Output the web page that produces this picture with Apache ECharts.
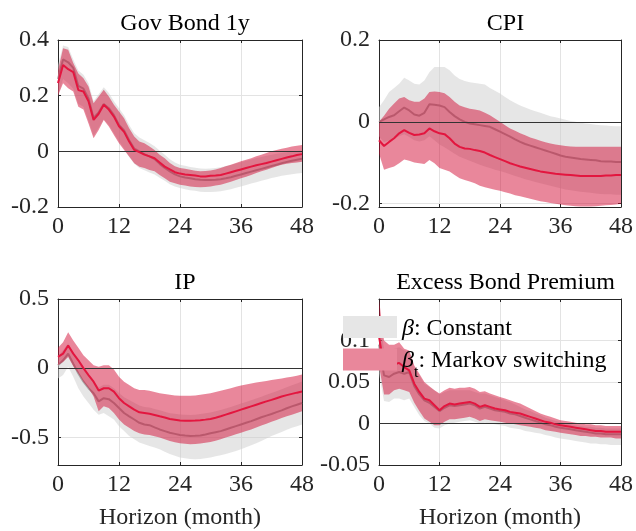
<!DOCTYPE html>
<html>
<head>
<meta charset="utf-8">
<script src="https://cdn.jsdelivr.net/npm/echarts@6/dist/echarts.min.js"></script>
<style>html,body{margin:0;padding:0;background:#fff;}#c{width:636px;height:531px;}</style>
</head>
<body>
<div id="c"></div>
<script>
// ---------- DATA ----------
const horizons = [0,1,2,3,4,5,6,7,8,9,10,11,12,13,14,15,16,17,18,19,20,21,22,23,24,25,26,27,28,29,30,31,32,33,34,35,36,37,38,39,40,41,42,43,44,45,46,47,48];
const panelTitles = ['Gov Bond 1y', 'CPI', 'IP', 'Excess Bond Premium'];
const xTicks = [0, 12, 24, 36, 48];
const yTicksBond = [-0.2, 0, 0.2, 0.4];
const yTicksCpi = [-0.2, 0, 0.2];
const yTicksIp = [-0.5, 0, 0.5];
const yTicksEbp = [-0.05, 0, 0.05, 0.1];
const legendNames = ['Constant', 'Markov switching'];
const xAxisName = 'Horizon (month)';

// Gov Bond 1y
const bondConstMed = [0.26,0.33,0.32,0.3,0.235,0.225,0.19,0.12,0.14,0.17,0.155,0.13,0.095,0.075,0.04,0.01,0.0,-0.01,-0.018,-0.028,-0.045,-0.06,-0.072,-0.083,-0.09,-0.094,-0.097,-0.1,-0.102,-0.103,-0.103,-0.102,-0.1,-0.097,-0.093,-0.088,-0.083,-0.078,-0.073,-0.068,-0.063,-0.058,-0.053,-0.048,-0.043,-0.038,-0.034,-0.03,-0.027];
const bondConstLo = [0.2,0.26,0.245,0.225,0.17,0.16,0.11,0.055,0.085,0.115,0.095,0.065,0.035,0.01,-0.02,-0.045,-0.06,-0.068,-0.076,-0.083,-0.095,-0.106,-0.118,-0.126,-0.132,-0.136,-0.14,-0.142,-0.145,-0.146,-0.146,-0.145,-0.143,-0.14,-0.136,-0.131,-0.126,-0.121,-0.116,-0.111,-0.106,-0.101,-0.096,-0.092,-0.088,-0.085,-0.082,-0.08,-0.078];
const bondConstHi = [0.31,0.38,0.375,0.33,0.29,0.275,0.245,0.18,0.205,0.23,0.21,0.18,0.155,0.13,0.095,0.065,0.05,0.04,0.03,0.018,0.002,-0.012,-0.028,-0.04,-0.048,-0.052,-0.056,-0.059,-0.062,-0.063,-0.062,-0.06,-0.057,-0.053,-0.049,-0.044,-0.039,-0.034,-0.029,-0.024,-0.02,-0.016,-0.012,-0.009,-0.006,-0.003,-0.001,0.001,0.003];
const bondMsMed = [0.245,0.31,0.295,0.285,0.22,0.215,0.18,0.113,0.135,0.167,0.15,0.125,0.09,0.07,0.035,0.005,-0.003,-0.012,-0.018,-0.025,-0.04,-0.055,-0.065,-0.075,-0.08,-0.083,-0.085,-0.087,-0.09,-0.09,-0.088,-0.087,-0.085,-0.08,-0.075,-0.07,-0.065,-0.06,-0.055,-0.05,-0.046,-0.042,-0.037,-0.032,-0.027,-0.022,-0.018,-0.013,-0.01];
const bondMsLo = [0.2,0.245,0.227,0.215,0.16,0.15,0.1,0.047,0.077,0.113,0.089,0.059,0.029,0.005,-0.019,-0.043,-0.055,-0.06,-0.067,-0.072,-0.085,-0.097,-0.109,-0.115,-0.12,-0.123,-0.126,-0.128,-0.129,-0.128,-0.126,-0.123,-0.12,-0.115,-0.109,-0.103,-0.097,-0.091,-0.085,-0.078,-0.072,-0.066,-0.06,-0.054,-0.048,-0.045,-0.042,-0.04,-0.037];
const bondMsHi = [0.29,0.37,0.365,0.317,0.28,0.263,0.233,0.173,0.197,0.221,0.197,0.167,0.143,0.119,0.083,0.053,0.035,0.029,0.017,0.005,-0.012,-0.025,-0.042,-0.054,-0.06,-0.063,-0.066,-0.07,-0.072,-0.071,-0.069,-0.065,-0.06,-0.054,-0.048,-0.042,-0.036,-0.03,-0.025,-0.018,-0.012,-0.006,0.0,0.005,0.009,0.013,0.017,0.02,0.023];

// CPI
const cpiConstMed = [0,0.006,0.012,0.016,0.026,0.035,0.028,0.018,0.015,0.022,0.043,0.042,0.04,0.036,0.024,0.014,0.006,0,-0.004,-0.006,-0.008,-0.01,-0.012,-0.018,-0.024,-0.03,-0.036,-0.043,-0.049,-0.054,-0.058,-0.062,-0.066,-0.07,-0.074,-0.078,-0.082,-0.085,-0.087,-0.089,-0.091,-0.092,-0.093,-0.094,-0.096,-0.097,-0.097,-0.098,-0.098];
const cpiConstLo = [-0.035,-0.05,-0.045,-0.04,-0.035,-0.03,-0.037,-0.045,-0.048,-0.045,-0.035,-0.045,-0.055,-0.062,-0.07,-0.078,-0.085,-0.09,-0.095,-0.1,-0.105,-0.109,-0.113,-0.117,-0.12,-0.124,-0.128,-0.132,-0.136,-0.14,-0.143,-0.147,-0.15,-0.153,-0.156,-0.159,-0.162,-0.165,-0.167,-0.169,-0.171,-0.172,-0.173,-0.175,-0.176,-0.177,-0.177,-0.178,-0.178];
const cpiConstHi = [0.036,0.053,0.073,0.083,0.093,0.108,0.101,0.093,0.091,0.101,0.121,0.134,0.134,0.134,0.126,0.113,0.105,0.1,0.097,0.095,0.093,0.091,0.083,0.076,0.069,0.061,0.053,0.046,0.04,0.035,0.03,0.026,0.022,0.018,0.014,0.011,0.008,0.005,0.002,0.0,-0.002,-0.004,-0.005,-0.007,-0.008,-0.009,-0.01,-0.011,-0.011];
const cpiMsMed = [-0.045,-0.059,-0.049,-0.04,-0.028,-0.02,-0.027,-0.032,-0.031,-0.028,-0.016,-0.023,-0.028,-0.03,-0.04,-0.053,-0.061,-0.065,-0.066,-0.069,-0.071,-0.075,-0.081,-0.086,-0.091,-0.096,-0.101,-0.105,-0.109,-0.112,-0.115,-0.118,-0.121,-0.123,-0.125,-0.127,-0.128,-0.129,-0.13,-0.131,-0.132,-0.132,-0.132,-0.132,-0.132,-0.131,-0.131,-0.13,-0.13];
const cpiMsLo = [-0.077,-0.117,-0.113,-0.109,-0.101,-0.092,-0.095,-0.099,-0.101,-0.103,-0.093,-0.101,-0.113,-0.117,-0.121,-0.13,-0.138,-0.142,-0.146,-0.15,-0.156,-0.16,-0.163,-0.166,-0.168,-0.172,-0.175,-0.179,-0.182,-0.185,-0.188,-0.191,-0.194,-0.196,-0.198,-0.2,-0.202,-0.204,-0.205,-0.206,-0.207,-0.207,-0.207,-0.206,-0.205,-0.204,-0.203,-0.202,-0.2];
const cpiMsHi = [0,0.015,0.032,0.045,0.057,0.061,0.053,0.049,0.049,0.057,0.073,0.074,0.073,0.07,0.061,0.049,0.04,0.036,0.032,0.03,0.028,0.022,0.016,0.008,0.0,-0.008,-0.016,-0.022,-0.028,-0.033,-0.038,-0.042,-0.046,-0.05,-0.053,-0.055,-0.057,-0.059,-0.06,-0.061,-0.061,-0.061,-0.061,-0.061,-0.061,-0.061,-0.061,-0.061,-0.061];

// IP
const ipConstMed = [0.02,0.057,0.105,0.033,-0.038,-0.098,-0.145,-0.181,-0.24,-0.217,-0.224,-0.252,-0.288,-0.324,-0.348,-0.371,-0.395,-0.407,-0.412,-0.428,-0.443,-0.455,-0.467,-0.475,-0.483,-0.487,-0.49,-0.489,-0.486,-0.479,-0.471,-0.463,-0.455,-0.443,-0.431,-0.419,-0.407,-0.395,-0.383,-0.369,-0.355,-0.343,-0.331,-0.318,-0.305,-0.29,-0.276,-0.264,-0.252];
const ipConstLo = [-0.074,-0.05,0.01,-0.062,-0.145,-0.205,-0.252,-0.3,-0.336,-0.324,-0.348,-0.371,-0.419,-0.455,-0.49,-0.514,-0.538,-0.55,-0.562,-0.574,-0.586,-0.604,-0.621,-0.633,-0.645,-0.651,-0.657,-0.658,-0.657,-0.651,-0.645,-0.637,-0.629,-0.62,-0.61,-0.598,-0.586,-0.572,-0.557,-0.542,-0.526,-0.508,-0.49,-0.476,-0.462,-0.446,-0.431,-0.419,-0.407];
const ipConstHi = [0.09,0.13,0.18,0.11,0.05,-0.01,-0.05,-0.09,-0.14,-0.12,-0.12,-0.145,-0.18,-0.21,-0.23,-0.25,-0.27,-0.28,-0.285,-0.295,-0.305,-0.315,-0.325,-0.33,-0.335,-0.337,-0.338,-0.336,-0.332,-0.326,-0.32,-0.311,-0.302,-0.291,-0.28,-0.268,-0.256,-0.244,-0.232,-0.219,-0.206,-0.193,-0.18,-0.166,-0.152,-0.138,-0.124,-0.11,-0.097];
const ipMsMed = [0.081,0.105,0.164,0.105,0.057,0.0,-0.05,-0.098,-0.162,-0.145,-0.145,-0.17,-0.217,-0.252,-0.276,-0.3,-0.319,-0.324,-0.329,-0.338,-0.348,-0.357,-0.367,-0.373,-0.379,-0.38,-0.381,-0.379,-0.376,-0.372,-0.367,-0.358,-0.348,-0.336,-0.324,-0.312,-0.3,-0.288,-0.276,-0.264,-0.252,-0.24,-0.229,-0.217,-0.205,-0.195,-0.186,-0.177,-0.169];
const ipMsLo = [0.021,0.045,0.08,0.014,-0.038,-0.098,-0.145,-0.205,-0.312,-0.276,-0.288,-0.324,-0.371,-0.407,-0.431,-0.455,-0.471,-0.479,-0.483,-0.493,-0.502,-0.514,-0.526,-0.535,-0.543,-0.547,-0.55,-0.548,-0.545,-0.54,-0.533,-0.524,-0.514,-0.502,-0.49,-0.478,-0.467,-0.455,-0.443,-0.429,-0.414,-0.401,-0.388,-0.374,-0.36,-0.348,-0.336,-0.324,-0.312];
const ipMsHi = [0.148,0.188,0.26,0.2,0.148,0.093,0.057,0.021,0.01,0.021,0.021,-0.01,-0.062,-0.098,-0.121,-0.145,-0.157,-0.157,-0.164,-0.172,-0.181,-0.187,-0.193,-0.197,-0.2,-0.2,-0.2,-0.197,-0.193,-0.187,-0.181,-0.173,-0.164,-0.155,-0.145,-0.135,-0.126,-0.118,-0.11,-0.104,-0.098,-0.092,-0.086,-0.08,-0.074,-0.068,-0.062,-0.054,-0.045];

// Excess Bond Premium
const ebpConstMed = [0.095,0.058,0.056,0.06,0.062,0.06,0.062,0.045,0.035,0.028,0.025,0.02,0.015,0.019,0.022,0.021,0.022,0.023,0.024,0.022,0.018,0.02,0.018,0.016,0.015,0.014,0.012,0.011,0.009,0.007,0.005,0.003,0.001,-0.001,-0.002,-0.004,-0.005,-0.006,-0.007,-0.008,-0.009,-0.01,-0.011,-0.012,-0.012,-0.013,-0.013,-0.013,-0.013];
const ebpConstLo = [0.06,0.027,0.026,0.03,0.03,0.028,0.03,0.02,0.01,0.003,0.0,-0.005,-0.006,-0.002,0.0,0.001,0.002,0.003,0.004,0.002,0.0,0.001,0.0,-0.001,-0.002,-0.003,-0.005,-0.006,-0.007,-0.009,-0.01,-0.011,-0.012,-0.014,-0.015,-0.017,-0.018,-0.019,-0.02,-0.021,-0.022,-0.023,-0.024,-0.024,-0.025,-0.025,-0.026,-0.026,-0.026];
const ebpConstHi = [0.13,0.09,0.085,0.09,0.092,0.088,0.086,0.068,0.058,0.048,0.044,0.04,0.035,0.038,0.04,0.04,0.04,0.04,0.04,0.038,0.036,0.036,0.034,0.032,0.03,0.028,0.026,0.023,0.02,0.017,0.015,0.012,0.01,0.007,0.005,0.003,0.002,0.0,-0.001,-0.002,-0.003,-0.004,-0.004,-0.005,-0.005,-0.006,-0.006,-0.006,-0.006];
const ebpMsMed = [0.105,0.068,0.07,0.071,0.073,0.068,0.064,0.048,0.038,0.03,0.028,0.022,0.016,0.021,0.024,0.023,0.024,0.025,0.026,0.024,0.02,0.022,0.02,0.018,0.017,0.016,0.014,0.013,0.012,0.01,0.008,0.006,0.004,0.002,0.001,-0.001,-0.002,-0.003,-0.004,-0.005,-0.006,-0.007,-0.008,-0.009,-0.009,-0.01,-0.01,-0.01,-0.01];
const ebpMsLo = [0.07,0.035,0.035,0.04,0.042,0.04,0.038,0.025,0.015,0.006,0.002,-0.002,-0.002,0.002,0.005,0.005,0.006,0.007,0.008,0.006,0.003,0.005,0.004,0.003,0.002,0.001,0.0,-0.001,-0.002,-0.003,-0.004,-0.005,-0.006,-0.008,-0.009,-0.01,-0.011,-0.012,-0.013,-0.014,-0.015,-0.015,-0.016,-0.016,-0.017,-0.017,-0.017,-0.018,-0.018];
const ebpMsHi = [0.15,0.1,0.095,0.095,0.098,0.09,0.088,0.07,0.06,0.05,0.045,0.04,0.036,0.04,0.043,0.042,0.043,0.043,0.044,0.042,0.038,0.039,0.036,0.034,0.032,0.03,0.028,0.026,0.024,0.021,0.018,0.015,0.012,0.01,0.008,0.006,0.004,0.003,0.002,0.001,0.0,-0.001,-0.001,-0.002,-0.002,-0.003,-0.003,-0.003,-0.003];

// ---------- CHART ----------
const FONT = '"Liberation Serif", "Times New Roman", serif';
const FS = 24;
const TXT = '#262626';
const GREY_BAND = 'rgba(205,205,205,0.5)';
const PINK_BAND = 'rgba(209,5,47,0.48)';
const GREY_LINE = '#a6a6a6';
const RED_LINE = '#e3163f';

const panels = [
  {title: panelTitles[0], ticks: yTicksBond, min: -0.2, max: 0.4, c: [bondConstLo, bondConstHi, bondConstMed], m: [bondMsLo, bondMsHi, bondMsMed]},
  {title: panelTitles[1], ticks: yTicksCpi, min: -0.208, max: 0.2, c: [cpiConstLo, cpiConstHi, cpiConstMed], m: [cpiMsLo, cpiMsHi, cpiMsMed]},
  {title: panelTitles[2], ticks: yTicksIp, min: -0.7, max: 0.5, c: [ipConstLo, ipConstHi, ipConstMed], m: [ipMsLo, ipMsHi, ipMsMed]},
  {title: panelTitles[3], ticks: yTicksEbp, min: -0.05, max: 0.15, c: [ebpConstLo, ebpConstHi, ebpConstMed], m: [ebpMsLo, ebpMsHi, ebpMsMed]}
];
const grids = [
  {left: 58, top: 40, width: 244, height: 167},
  {left: 379, top: 40, width: 243, height: 167},
  {left: 58, top: 299, width: 244, height: 168},
  {left: 379, top: 299, width: 243, height: 168}
];

const pairs = arr => horizons.map((h, i) => [h, arr[i]]);

// band drawn as one polygon through the axes' own coordinate mapping
function bandSeries(i, name, lo, hi, fill, legendColor, extra) {
  return Object.assign({
    type: 'custom', name: name, xAxisIndex: 2 * i, yAxisIndex: 2 * i, silent: true, animation: false, clip: true,
    itemStyle: {color: legendColor},
    data: horizons.map((h, k) => [h, lo[k], hi[k]]),
    encode: {x: 0, y: [1, 2]},
    renderItem: function (params, api) {
      if (params.dataIndex !== 0) return null;
      const pts = [];
      for (let k = 0; k < horizons.length; k++) pts.push(api.coord([horizons[k], lo[k]]));
      for (let k = horizons.length - 1; k >= 0; k--) pts.push(api.coord([horizons[k], hi[k]]));
      return {type: 'polygon', shape: {points: pts}, style: {fill: fill, stroke: null}};
    }
  }, extra || {});
}

const xAxes = [], yAxes = [], series = [], titles = [];
panels.forEach((p, i) => {
  const g = grids[i];
  titles.push({
    text: p.title, left: g.left + g.width / 2, top: i < 2 ? 7 : 266, textAlign: 'center',
    textStyle: {fontFamily: FONT, fontSize: FS, fontWeight: 'normal', color: '#000'}
  });
  const bottom = i >= 2;
  xAxes.push({
    type: 'value', gridIndex: i, min: 0, max: 48, interval: 12, position: 'bottom',
    axisLine: {show: true, onZero: false, lineStyle: {color: TXT, width: 1}},
    axisTick: {show: true, inside: true, length: 3, lineStyle: {color: TXT}},
    axisLabel: {fontFamily: FONT, fontSize: FS, color: TXT, margin: 8},
    splitLine: {show: true, lineStyle: {color: '#e3e3e3', width: 1}},
    name: bottom ? xAxisName : '', nameLocation: 'middle', nameGap: 41,
    nameTextStyle: {fontFamily: FONT, fontSize: FS, color: TXT}
  });
  xAxes.push({
    type: 'value', gridIndex: i, min: 0, max: 48, interval: 12, position: 'top',
    axisLine: {show: true, onZero: false, lineStyle: {color: TXT, width: 1}},
    axisTick: {show: true, inside: true, length: 3, lineStyle: {color: TXT}},
    axisLabel: {show: false}, splitLine: {show: false}
  });
  yAxes.push({
    type: 'value', gridIndex: i, min: p.min, max: p.max, position: 'left',
    axisLine: {show: true, onZero: false, lineStyle: {color: TXT, width: 1}},
    axisTick: {show: true, inside: true, length: 3, customValues: p.ticks, lineStyle: {color: TXT}},
    axisLabel: {fontFamily: FONT, fontSize: FS, color: TXT, margin: 9, customValues: p.ticks},
    splitLine: {show: true, lineStyle: {color: '#e3e3e3', width: 1}}
  });
  yAxes.push({
    type: 'value', gridIndex: i, min: p.min, max: p.max, position: 'right',
    axisLine: {show: true, onZero: false, lineStyle: {color: TXT, width: 1}},
    axisTick: {show: true, inside: true, length: 3, customValues: p.ticks, lineStyle: {color: TXT}},
    axisLabel: {show: false}, splitLine: {show: false}
  });
  const base = {type: 'line', xAxisIndex: 2 * i, yAxisIndex: 2 * i, showSymbol: false, symbol: 'none', silent: true, animation: false};
  series.push(bandSeries(i, legendNames[0], p.c[0], p.c[1], GREY_BAND, '#e6e6e6', {z: 2}));
  series.push(Object.assign({}, base, {name: 'cMed' + i, data: pairs(p.c[2]), lineStyle: {color: GREY_LINE, width: 2}, z: 3}));
  series.push(bandSeries(i, legendNames[1], p.m[0], p.m[1], PINK_BAND, '#e9879b', {z: 4,
    markLine: {silent: true, symbol: ['none', 'none'], label: {show: false}, animation: false,
      lineStyle: {color: '#333', width: 1, type: 'solid'}, data: [{yAxis: 0}]}}));
  series.push(Object.assign({}, base, {name: 'mMed' + i, data: pairs(p.m[2]), lineStyle: {color: RED_LINE, width: 2}, z: 6}));
});

const chart = echarts.init(document.getElementById('c'), null, {renderer: 'canvas'});
chart.setOption({
  backgroundColor: '#fff',
  animation: false,
  title: titles,
  grid: grids,
  xAxis: xAxes,
  yAxis: yAxes,
  legend: {
    orient: 'vertical', left: 338, top: 311, itemWidth: 54, itemHeight: 22, itemGap: 8,
    selectedMode: false, icon: 'rect', z: 10,
    data: [
      {name: legendNames[0], itemStyle: {color: '#e6e6e6', borderWidth: 0}},
      {name: legendNames[1], itemStyle: {color: '#e9879b', borderWidth: 0}}
    ],
    formatter: function (name) {
      return name === legendNames[0] ? '{i|β}{r|: Constant}' : '{i|β}{s|t}{r|: Markov switching}';
    },
    textStyle: {
      fontFamily: FONT, fontSize: FS, color: '#000',
      rich: {
        i: {fontFamily: FONT, fontSize: FS, fontStyle: 'italic', color: '#000', verticalAlign: 'bottom', lineHeight: 27},
        r: {fontFamily: FONT, fontSize: FS, color: '#000', verticalAlign: 'bottom', lineHeight: 27},
        s: {fontFamily: FONT, fontSize: 16, color: '#000', verticalAlign: 'bottom', lineHeight: 18, padding: [0, 0, -8, 0]}
      }
    }
  },
  series: series
});
</script>
</body>
</html>
